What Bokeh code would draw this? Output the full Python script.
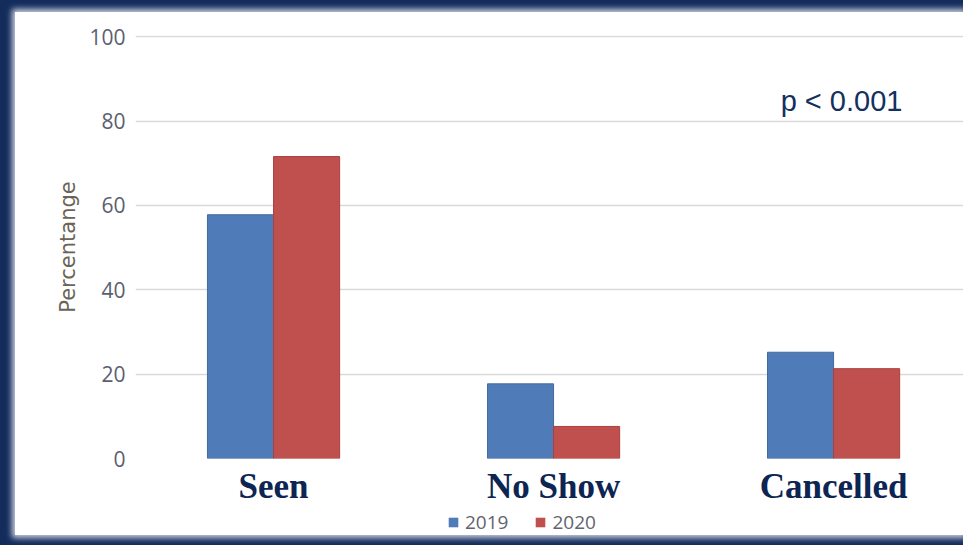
from bokeh.plotting import figure
from bokeh.models import ColumnDataSource, Range1d, FixedTicker, Label, Legend, LegendItem
from bokeh.layouts import column
from bokeh.transform import dodge
from bokeh.embed import file_html
from bokeh.resources import INLINE

categories = ["Seen", "No Show", "Cancelled"]
years = ["2019", "2020"]
values_2019 = [57.8, 17.7, 25.2]
values_2020 = [71.6, 7.6, 21.3]
y_ticks = [0, 20, 40, 60, 80, 100]
colors = ["#4f7cb8", "#c0504d"]
line_colors = ["#44699c", "#a8423f"]

xpos = list(range(len(categories)))
src = ColumnDataSource(data=dict(x=xpos, cat=categories, v2019=values_2019, v2020=values_2020))

p = figure(width=948, height=496, output_backend="svg", toolbar_location=None,
           x_range=Range1d(-0.493, 2.464), y_range=Range1d(0, 100.3),
           min_border_left=120, min_border_right=0, min_border_top=23, min_border_bottom=49)
p.outline_line_color = None
p.background_fill_color = "white"
p.border_fill_color = "white"

r1 = p.vbar(x=dodge("x", -0.118), top="v2019", width=0.236, source=src,
            fill_color=colors[0], line_color=line_colors[0], line_width=1)
r2 = p.vbar(x=dodge("x", 0.118), top="v2020", width=0.236, source=src,
            fill_color=colors[1], line_color=line_colors[1], line_width=1)

# x axis (category labels)
p.xaxis.ticker = FixedTicker(ticks=xpos)
p.xaxis.major_label_overrides = {i: c for i, c in zip(xpos, categories)}
p.xaxis.major_label_text_font = "Liberation Serif"
p.xaxis.major_label_text_font_style = "bold"
p.xaxis.major_label_text_font_size = "35px"
p.xaxis.major_label_text_color = "#0d2552"
p.xaxis.major_label_standoff = 8
p.xaxis.axis_line_color = None
p.xaxis.major_tick_line_color = None
p.xaxis.minor_tick_line_color = None
p.xaxis.major_tick_out = 0
p.xgrid.grid_line_color = None

# y axis
p.yaxis.ticker = FixedTicker(ticks=y_ticks)
p.yaxis.axis_label = "Percentange"
p.yaxis.axis_label_text_font = "DejaVu Sans"
p.yaxis.axis_label_text_font_style = "normal"
p.yaxis.axis_label_text_font_size = "21px"
p.yaxis.axis_label_text_color = "#6b6355"
p.yaxis.axis_label_standoff = 6
p.yaxis.major_label_text_font = "Open Sans"
p.yaxis.major_label_text_font_size = "21px"
p.yaxis.major_label_text_color = "#5a6070"
p.yaxis.major_label_standoff = 10
p.yaxis.axis_line_color = None
p.yaxis.major_tick_line_color = None
p.yaxis.minor_tick_line_color = None
p.yaxis.major_tick_out = 0
p.ygrid.grid_line_color = "#d9d9d9"
p.ygrid.grid_line_width = 1.5

# p-value annotation
p.add_layout(Label(x=1.811, y=84.7, text="p < 0.001", text_font="Liberation Sans",
                   text_font_size="29px", text_color="#13305e",
                   text_baseline="middle", text_align="left"))

# legend strip below the chart (its bars lie outside its visible range)
pl = figure(width=948, height=27, output_backend="svg", toolbar_location=None,
            x_range=Range1d(-11, -10), y_range=Range1d(0, 1),
            min_border=0, x_axis_type=None, y_axis_type=None)
pl.outline_line_color = None
pl.xgrid.grid_line_color = None
pl.ygrid.grid_line_color = None
pl.background_fill_color = "white"
pl.border_fill_color = "white"
l1 = pl.vbar(x="x", top="v2019", width=0.236, source=src,
             fill_color=colors[0], line_color=None)
l2 = pl.vbar(x="x", top="v2020", width=0.236, source=src,
             fill_color=colors[1], line_color=None)

legend = Legend(items=[LegendItem(label=years[0], renderers=[l1]),
                       LegendItem(label=years[1], renderers=[l2])],
                orientation="horizontal", location=(312, 0),
                padding=0, margin=0, spacing=26, glyph_width=12, glyph_height=12,
                label_standoff=6, label_text_font="Open Sans", label_text_font_size="19px",
                label_text_color="#5f6470", background_fill_alpha=0, border_line_color=None)
pl.add_layout(legend, "center")

inner = column(p, pl, spacing=0, margin=(12, 0, 10, 15),
               styles={"box-shadow": "0 0 6px 3px rgba(235,240,248,0.85)", "background-color": "white"})
layout = column(inner, styles={"background-color": "#132c5c"})

open("out.html", "w").write(file_html(layout, INLINE))
